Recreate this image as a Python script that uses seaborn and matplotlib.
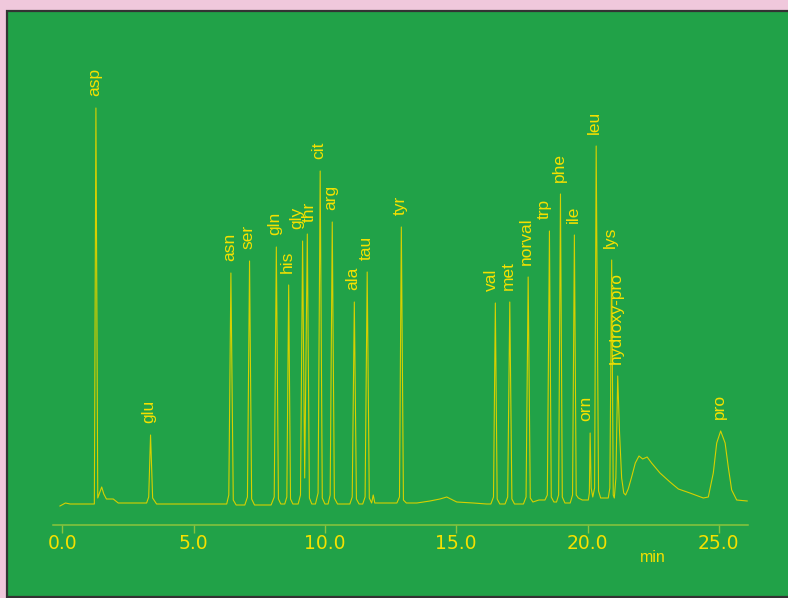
import numpy as np
import matplotlib
matplotlib.use("Agg")
import matplotlib.pyplot as plt
from matplotlib.patches import Rectangle
import seaborn as sns

# labelled peaks: retention time (min) and height above baseline
peak_names = ["asp", "glu", "asn", "ser", "gln", "his", "gly", "thr", "cit", "arg",
              "ala", "tau", "tyr", "val", "met", "norval", "trp", "phe", "ile",
              "orn", "leu", "lys", "hydroxy-pro", "pro"]
peak_times = [1.28, 3.36, 6.42, 7.13, 8.15, 8.62, 9.15, 9.33, 9.82, 10.28,
              11.12, 11.61, 12.91, 16.49, 17.04, 17.74, 18.55, 18.97, 19.50,
              20.10, 20.33, 20.92, 21.15, 25.07]
peak_heights = [395, 68, 230, 242, 256, 218, 262, 269, 332, 281,
                201, 231, 276, 200, 201, 226, 272, 309, 268,
                70, 357, 243, 127, 72]

# rest of the detector trace (valleys, shoulders, baseline drift)
base_times = [-0.09, 0.05, 0.12, 0.30, 0.55, 0.80, 1.22,
              1.35, 1.50, 1.58, 1.68, 1.94, 2.13, 3.21, 3.29,
              3.44, 3.59, 6.26, 6.34,
              6.51, 6.62, 6.95, 7.05,
              7.21, 7.32, 7.95, 8.07,
              8.23, 8.32, 8.47, 8.55,
              8.69, 8.78, 8.98, 9.07,
              9.23,
              9.41, 9.50, 9.64, 9.74,
              9.90, 10.00, 10.12, 10.20,
              10.36, 10.48, 10.95, 11.04,
              11.20, 11.30, 11.44, 11.53,
              11.69, 11.78, 11.84, 11.90, 12.74, 12.84,
              12.99, 13.10, 13.50, 14.00, 14.38, 14.64, 15.02, 15.65, 16.16, 16.32, 16.42,
              16.56, 16.66, 16.86, 16.96,
              17.12, 17.22, 17.56, 17.66,
              17.82, 17.92, 18.15, 18.38, 18.47,
              18.62, 18.72, 18.82, 18.90,
              19.04, 19.14, 19.34, 19.43,
              19.57, 19.65, 19.80, 20.03, 20.07,
              20.14, 20.20, 20.27,
              20.42, 20.50, 20.79, 20.85,
              20.98, 21.02, 21.08,
              21.22, 21.30, 21.38, 21.45, 21.55, 21.68, 21.82, 21.96, 22.10, 22.27,
              22.44, 22.76, 23.14, 23.46, 23.90, 24.41, 24.60, 24.79, 24.92,
              25.24, 25.36, 25.49, 25.68, 26.08]
base_signal = [-3, -1, 0, -1, -1, -1, -1,
               5, 16, 9, 4, 4, 0, 0, 6,
               5, -1, -1, 8,
               3, -2, -2, 6,
               4, -2, -2, 6,
               4, -1, -1, 6,
               4, -1, -1, 8,
               25,
               5, -1, -1, 10,
               5, -1, -1, 8,
               5, -1, -1, 6,
               4, -1, -1, 6,
               5, 0, 8, 0, 0, 6,
               3, 0, 0, 2, 4, 6, 1, 0, -1, -1, 6,
               4, -1, -1, 6,
               4, -1, -1, 6,
               5, 1, 3, 3, 8,
               6, 1, 1, 8,
               6, 0, 0, 8,
               8, 5, 3, 3, 10,
               15, 6, 15,
               12, 5, 5, 15,
               8, 5, 25,
               70, 25, 10, 8, 14, 26, 40, 47, 44, 46,
               40, 30, 21, 14, 10, 5, 6, 30, 60,
               60, 36, 13, 3, 2]

tick_values = [0, 5, 10, 15, 20, 25]
tick_labels = ["0.0", "5.0", "10.0", "15.0", "20.0", "25.0"]

pink = "#f0c8dc"
green = "#21a248"
yellow = "#f5e100"
trace_col = "#d6d000"
axis_col = "#8cc43c"

t = np.array(base_times + peak_times)
s = np.array(base_signal + peak_heights)
order = np.argsort(t)
t, s = t[order], s[order]

W, H = 788, 598
fig = plt.figure(figsize=(W / 100, H / 100), dpi=100, facecolor=pink)
panel = Rectangle((7 / W, 1 / H), 1.05, 586 / H, transform=fig.transFigure,
                  facecolor=green, edgecolor="#333333", lw=1.6, zorder=-5)
fig.patches.append(panel)

ax = fig.add_axes([53.3 / W, (H - 524.7) / H, (747.7 - 53.3) / W, (524.7 - 60) / H])
ax.set_zorder(2)
ax.patch.set_alpha(0)

sns.lineplot(x=t, y=s, ax=ax, color=trace_col, lw=0.8, estimator=None, sort=False)

ax.set_xlim(-0.343, 26.10)
ax.set_ylim(-21.7, 443)
for side in ["left", "right", "top"]:
    ax.spines[side].set_visible(False)
ax.spines["bottom"].set_color(axis_col)
ax.spines["bottom"].set_linewidth(1.1)
ax.set_yticks([])
ax.set_xticks(tick_values)
ax.set_xticklabels(tick_labels, family="DejaVu Sans", fontsize=13.5)
ax.tick_params(axis="x", direction="out", length=5.5, width=1, color=axis_col,
               labelcolor=yellow, pad=1.2)
ax.set_xlabel("")
ax.set_ylabel("")

nudge = {"gly": -4.5, "val": -3, "trp": -4, "orn": -3, "thr": 1.5}
for name, pt, ph in zip(peak_names, peak_times, peak_heights):
    ax.annotate(name, xy=(pt, ph), xytext=(nudge.get(name, -1), 9),
                textcoords="offset points", rotation=90, ha="center", va="bottom",
                color=yellow, fontsize=12.5, family="Liberation Sans")

fig.text(653 / W, 1 - 557 / H, "min", ha="center", va="center",
         color=yellow, fontsize=11.5, family="Liberation Sans", zorder=3)

fig.savefig("out.png", dpi=100, facecolor=pink)
